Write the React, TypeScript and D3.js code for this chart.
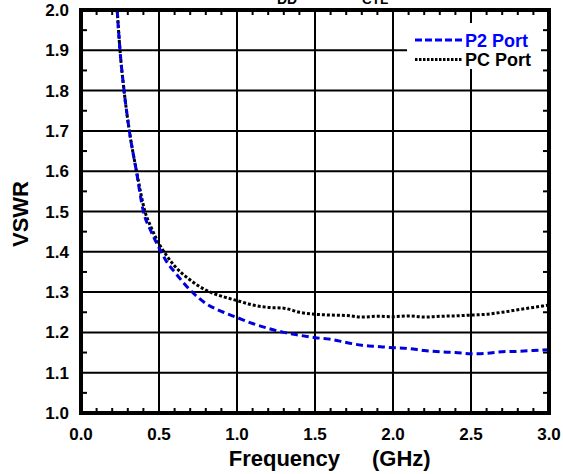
import React from "react";
import * as d3 from "d3";

const xTicks = [0.0, 0.5, 1.0, 1.5, 2.0, 2.5, 3.0];
const yTicks = [1.0, 1.1, 1.2, 1.3, 1.4, 1.5, 1.6, 1.7, 1.8, 1.9, 2.0];
const seriesNames = ["P2 Port", "PC Port"];

const p2Freq = [0.232, 0.25, 0.276, 0.31, 0.355, 0.4, 0.45, 0.5, 0.55, 0.6, 0.7, 0.8, 0.9, 1.0, 1.1, 1.2, 1.3, 1.4, 1.5, 1.6, 1.7, 1.8, 1.9, 2.0, 2.1, 2.2, 2.3, 2.4, 2.5, 2.6, 2.7, 2.8, 2.9, 3.0];
const p2Vswr = [2.0, 1.9, 1.8, 1.7, 1.6, 1.5, 1.45, 1.41, 1.375, 1.35, 1.305, 1.272, 1.252, 1.237, 1.222, 1.21, 1.2, 1.193, 1.187, 1.183, 1.175, 1.168, 1.165, 1.162, 1.16, 1.155, 1.152, 1.15, 1.147, 1.148, 1.152, 1.153, 1.155, 1.157];

const pcFreq = [0.232, 0.25, 0.276, 0.31, 0.356, 0.41, 0.45, 0.5, 0.55, 0.6, 0.7, 0.8, 0.9, 1.0, 1.1, 1.2, 1.3, 1.4, 1.5, 1.6, 1.7, 1.8, 1.9, 2.0, 2.1, 2.2, 2.3, 2.4, 2.5, 2.6, 2.7, 2.8, 2.9, 3.0];
const pcVswr = [2.0, 1.9, 1.8, 1.7, 1.6, 1.5, 1.46, 1.42, 1.39, 1.365, 1.33, 1.305, 1.29, 1.279, 1.268, 1.262, 1.26, 1.25, 1.245, 1.243, 1.242, 1.238, 1.24, 1.239, 1.241, 1.238, 1.24, 1.241, 1.243, 1.245, 1.25, 1.256, 1.262, 1.268];

const W = 563, H = 474;
const L = 81, R = 549, T = 10, B = 413;

export default function App() {
  const x = d3.scaleLinear().domain([0, 3]).range([L, R]);
  const y = d3.scaleLinear().domain([1, 2]).range([B, T]);
  const line = d3.line<[number, number]>().x(d => x(d[0])).y(d => y(d[1])).curve(d3.curveMonotoneX);
  const p2 = p2Freq.map((f, i) => [f, p2Vswr[i]] as [number, number]);
  const pc = pcFreq.map((f, i) => [f, pcVswr[i]] as [number, number]);
  const xMinor = d3.range(1, 30).map(i => i / 10).filter(v => Math.abs(v * 2 - Math.round(v * 2)) > 1e-6);
  const yMinor = d3.range(0, 10).map(i => 1.05 + i / 10);
  const font = "'Liberation Sans', Arial, sans-serif";
  return (
    <svg width={W} height={H} style={{ position: "absolute", left: 0, top: 0, background: "#fff" }} fontFamily={font}>
      <defs>
        <clipPath id="plot"><rect x={L} y={T} width={R - L} height={B - T} /></clipPath>
      </defs>
      <text x={277} y={4} fontSize={14} fontWeight="bold">DD</text>
      <text x={362} y={4} fontSize={13.5} fontWeight="bold">CTL</text>
      {/* grid */}
      {xTicks.slice(1, -1).map(t => (
        <line key={"gx" + t} x1={x(t)} x2={x(t)} y1={T} y2={B} stroke="#000" strokeWidth={2} />
      ))}
      {yTicks.slice(1, -1).map(t => (
        <line key={"gy" + t} x1={L} x2={R} y1={y(t)} y2={y(t)} stroke="#000" strokeWidth={2} />
      ))}
      {/* minor ticks */}
      {xMinor.map(t => (
        <g key={"mx" + t}>
          <line x1={x(t)} x2={x(t)} y1={B} y2={B - 5} stroke="#000" strokeWidth={2} />
          <line x1={x(t)} x2={x(t)} y1={T} y2={T + 5} stroke="#000" strokeWidth={2} />
        </g>
      ))}
      {yMinor.map(t => (
        <g key={"my" + t}>
          <line x1={L} x2={L + 6} y1={y(t)} y2={y(t)} stroke="#000" strokeWidth={2} />
          <line x1={R} x2={R - 6} y1={y(t)} y2={y(t)} stroke="#000" strokeWidth={2} />
        </g>
      ))}
      {/* curves */}
      <g clipPath="url(#plot)">
        <path d={line(pc) || ""} fill="none" stroke="#000" strokeWidth={3} strokeDasharray="3,2" />
        <path d={line(p2) || ""} fill="none" stroke="#0000dd" strokeWidth={3} strokeDasharray="7,4" />
      </g>
      {/* legend */}
      <rect x={407} y={23} width={134} height={46} fill="#fff" />
      <line x1={415} x2={462} y1={40} y2={40} stroke="#0000ff" strokeWidth={3} strokeDasharray="7,3" />
      <text x={465} y={46.5} fontSize={18} fontWeight="bold" fill="#0000ff">{seriesNames[0]}</text>
      <line x1={415} x2={462} y1={59.5} y2={59.5} stroke="#000" strokeWidth={3} strokeDasharray="2.5,1.5" />
      <text x={465} y={66} fontSize={18} fontWeight="bold" fill="#000">{seriesNames[1]}</text>
      {/* frame */}
      <rect x={L} y={T} width={R - L} height={B - T} fill="none" stroke="#000" strokeWidth={4} />
      {/* tick labels */}
      {xTicks.map(t => (
        <text key={"xl" + t} x={x(t)} y={440} fontSize={17} fontWeight="bold" textAnchor="middle">{t.toFixed(1)}</text>
      ))}
      {yTicks.map(t => (
        <text key={"yl" + t} x={69} y={y(t) + 6} fontSize={17} fontWeight="bold" textAnchor="end">{t.toFixed(1)}</text>
      ))}
      <text x={340} y={466} fontSize={22} fontWeight="bold" textAnchor="end">Frequency</text>
      <text x={372} y={466} fontSize={22} fontWeight="bold" textAnchor="start">(GHz)</text>
      <text transform={`translate(28,214) rotate(-90)`} fontSize={22} fontWeight="bold" textAnchor="middle">VSWR</text>
    </svg>
  );
}
